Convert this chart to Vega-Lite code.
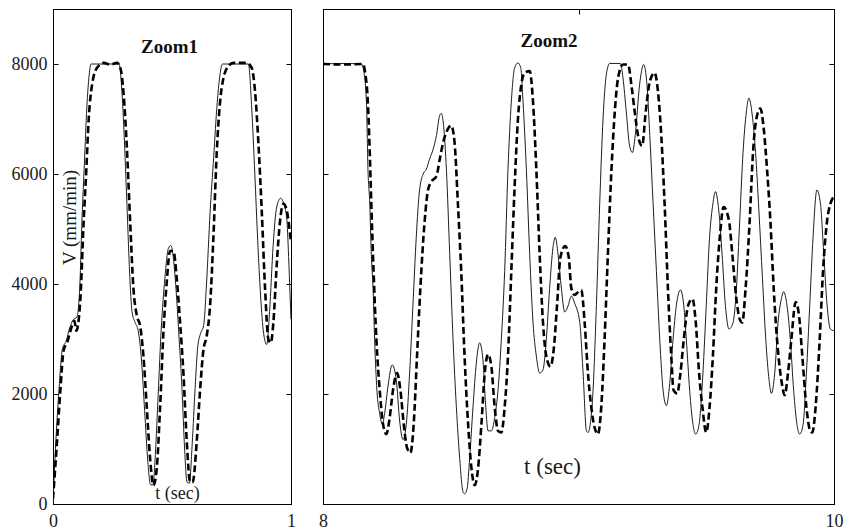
{
  "$schema": "https://vega.github.io/schema/vega-lite/v6.json",
  "padding": {"left": 10, "top": 8, "right": 15, "bottom": 2},
  "background": "white",
  "config": {
    "font": "Liberation Serif",
    "view": {"stroke": "black", "strokeWidth": 1},
    "axis": {
      "grid": false,
      "domainColor": "black",
      "tickColor": "black",
      "tickSize": -5,
      "labelColor": "#1a1a1a",
      "labelFontSize": 18,
      "labelFlush": false,
      "labelOverlap": false,
      "titleColor": "#1a1a1a",
      "titleFontWeight": "normal"
    }
  },
  "datasets": {
    "zoom1": [
      {"t": 0, "v": 0, "series": "ref"}, {"t": 0.012, "v": 1140, "series": "ref"}, {"t": 0.025, "v": 2070, "series": "ref"},
      {"t": 0.04, "v": 2830, "series": "ref"}, {"t": 0.055, "v": 2960, "series": "ref"}, {"t": 0.07, "v": 3200, "series": "ref"},
      {"t": 0.085, "v": 3350, "series": "ref"}, {"t": 0.1, "v": 3400, "series": "ref"}, {"t": 0.112, "v": 3900, "series": "ref"},
      {"t": 0.122, "v": 5200, "series": "ref"}, {"t": 0.132, "v": 6200, "series": "ref"}, {"t": 0.142, "v": 7200, "series": "ref"},
      {"t": 0.152, "v": 7800, "series": "ref"}, {"t": 0.16, "v": 8000, "series": "ref"}, {"t": 0.278, "v": 8000, "series": "ref"},
      {"t": 0.288, "v": 7600, "series": "ref"}, {"t": 0.3, "v": 6600, "series": "ref"}, {"t": 0.312, "v": 5300, "series": "ref"},
      {"t": 0.322, "v": 4200, "series": "ref"}, {"t": 0.332, "v": 3500, "series": "ref"}, {"t": 0.345, "v": 3300, "series": "ref"},
      {"t": 0.358, "v": 3150, "series": "ref"}, {"t": 0.372, "v": 2600, "series": "ref"}, {"t": 0.385, "v": 1700, "series": "ref"},
      {"t": 0.398, "v": 800, "series": "ref"}, {"t": 0.41, "v": 350, "series": "ref"}, {"t": 0.42, "v": 350, "series": "ref"},
      {"t": 0.43, "v": 900, "series": "ref"}, {"t": 0.442, "v": 2000, "series": "ref"}, {"t": 0.455, "v": 3200, "series": "ref"},
      {"t": 0.47, "v": 4100, "series": "ref"}, {"t": 0.485, "v": 4650, "series": "ref"}, {"t": 0.495, "v": 4700, "series": "ref"},
      {"t": 0.505, "v": 4500, "series": "ref"}, {"t": 0.517, "v": 3900, "series": "ref"}, {"t": 0.53, "v": 3000, "series": "ref"},
      {"t": 0.542, "v": 2100, "series": "ref"}, {"t": 0.553, "v": 1000, "series": "ref"}, {"t": 0.563, "v": 400, "series": "ref"},
      {"t": 0.573, "v": 380, "series": "ref"}, {"t": 0.585, "v": 1100, "series": "ref"}, {"t": 0.597, "v": 2100, "series": "ref"},
      {"t": 0.608, "v": 2850, "series": "ref"}, {"t": 0.62, "v": 3100, "series": "ref"}, {"t": 0.633, "v": 3250, "series": "ref"},
      {"t": 0.645, "v": 4000, "series": "ref"}, {"t": 0.66, "v": 5300, "series": "ref"}, {"t": 0.675, "v": 6300, "series": "ref"},
      {"t": 0.69, "v": 7300, "series": "ref"}, {"t": 0.7, "v": 7750, "series": "ref"}, {"t": 0.712, "v": 8000, "series": "ref"},
      {"t": 0.821, "v": 8000, "series": "ref"}, {"t": 0.835, "v": 7200, "series": "ref"}, {"t": 0.848, "v": 6000, "series": "ref"},
      {"t": 0.86, "v": 4800, "series": "ref"}, {"t": 0.872, "v": 3800, "series": "ref"}, {"t": 0.885, "v": 3100, "series": "ref"},
      {"t": 0.898, "v": 2900, "series": "ref"}, {"t": 0.91, "v": 3500, "series": "ref"}, {"t": 0.925, "v": 4700, "series": "ref"},
      {"t": 0.94, "v": 5400, "series": "ref"}, {"t": 0.957, "v": 5560, "series": "ref"}, {"t": 0.97, "v": 5450, "series": "ref"},
      {"t": 0.982, "v": 5200, "series": "ref"}, {"t": 0.99, "v": 4500, "series": "ref"}, {"t": 0.996, "v": 3800, "series": "ref"},
      {"t": 1, "v": 3360, "series": "ref"},

      {"t": 0, "v": 100, "series": "out"}, {"t": 0.017, "v": 1140, "series": "out"}, {"t": 0.031, "v": 2070, "series": "out"},
      {"t": 0.045, "v": 2800, "series": "out"}, {"t": 0.059, "v": 2930, "series": "out"}, {"t": 0.08, "v": 3240, "series": "out"},
      {"t": 0.09, "v": 3330, "series": "out"}, {"t": 0.098, "v": 3150, "series": "out"}, {"t": 0.115, "v": 3730, "series": "out"},
      {"t": 0.129, "v": 5150, "series": "out"}, {"t": 0.14, "v": 6080, "series": "out"}, {"t": 0.15, "v": 7000, "series": "out"},
      {"t": 0.164, "v": 7620, "series": "out"}, {"t": 0.185, "v": 7930, "series": "out"}, {"t": 0.213, "v": 8020, "series": "out"},
      {"t": 0.241, "v": 7990, "series": "out"}, {"t": 0.269, "v": 8020, "series": "out"}, {"t": 0.283, "v": 7930, "series": "out"},
      {"t": 0.297, "v": 7440, "series": "out"}, {"t": 0.31, "v": 6510, "series": "out"}, {"t": 0.324, "v": 5150, "series": "out"},
      {"t": 0.338, "v": 3920, "series": "out"}, {"t": 0.352, "v": 3430, "series": "out"}, {"t": 0.366, "v": 3240, "series": "out"},
      {"t": 0.38, "v": 2690, "series": "out"}, {"t": 0.394, "v": 1760, "series": "out"}, {"t": 0.408, "v": 830, "series": "out"},
      {"t": 0.422, "v": 340, "series": "out"}, {"t": 0.436, "v": 650, "series": "out"}, {"t": 0.45, "v": 1760, "series": "out"},
      {"t": 0.464, "v": 3120, "series": "out"}, {"t": 0.478, "v": 4040, "series": "out"}, {"t": 0.492, "v": 4600, "series": "out"},
      {"t": 0.506, "v": 4600, "series": "out"}, {"t": 0.52, "v": 4100, "series": "out"}, {"t": 0.534, "v": 3300, "series": "out"},
      {"t": 0.548, "v": 2380, "series": "out"}, {"t": 0.562, "v": 1140, "series": "out"}, {"t": 0.576, "v": 400, "series": "out"},
      {"t": 0.587, "v": 400, "series": "out"}, {"t": 0.604, "v": 1140, "series": "out"}, {"t": 0.618, "v": 2070, "series": "out"},
      {"t": 0.632, "v": 2800, "series": "out"}, {"t": 0.646, "v": 3060, "series": "out"}, {"t": 0.66, "v": 3610, "series": "out"},
      {"t": 0.674, "v": 4850, "series": "out"}, {"t": 0.688, "v": 6390, "series": "out"}, {"t": 0.702, "v": 7310, "series": "out"},
      {"t": 0.716, "v": 7740, "series": "out"}, {"t": 0.737, "v": 7960, "series": "out"}, {"t": 0.758, "v": 8020, "series": "out"},
      {"t": 0.814, "v": 8020, "series": "out"}, {"t": 0.835, "v": 7930, "series": "out"}, {"t": 0.849, "v": 7500, "series": "out"},
      {"t": 0.863, "v": 6570, "series": "out"}, {"t": 0.877, "v": 5340, "series": "out"}, {"t": 0.891, "v": 3920, "series": "out"},
      {"t": 0.905, "v": 2990, "series": "out"}, {"t": 0.915, "v": 2930, "series": "out"}, {"t": 0.926, "v": 3300, "series": "out"},
      {"t": 0.94, "v": 4350, "series": "out"}, {"t": 0.954, "v": 5150, "series": "out"}, {"t": 0.968, "v": 5460, "series": "out"},
      {"t": 0.982, "v": 5340, "series": "out"}, {"t": 0.996, "v": 4910, "series": "out"}, {"t": 1, "v": 4750, "series": "out"}
    ],
    "zoom2": [
      {"t": 8.0, "v": 8000, "series": "ref"}, {"t": 8.075, "v": 8010, "series": "ref"}, {"t": 8.15, "v": 8000, "series": "ref"},
      {"t": 8.157, "v": 7930, "series": "ref"}, {"t": 8.17, "v": 7310, "series": "ref"}, {"t": 8.176, "v": 6080, "series": "ref"},
      {"t": 8.183, "v": 5460, "series": "ref"}, {"t": 8.189, "v": 4540, "series": "ref"}, {"t": 8.196, "v": 3920, "series": "ref"},
      {"t": 8.202, "v": 2990, "series": "ref"}, {"t": 8.211, "v": 2070, "series": "ref"}, {"t": 8.222, "v": 1640, "series": "ref"},
      {"t": 8.232, "v": 1450, "series": "ref"}, {"t": 8.241, "v": 1640, "series": "ref"}, {"t": 8.254, "v": 2130, "series": "ref"},
      {"t": 8.271, "v": 2530, "series": "ref"}, {"t": 8.287, "v": 2250, "series": "ref"}, {"t": 8.3, "v": 1510, "series": "ref"},
      {"t": 8.313, "v": 1170, "series": "ref"}, {"t": 8.326, "v": 1450, "series": "ref"}, {"t": 8.339, "v": 2380, "series": "ref"},
      {"t": 8.352, "v": 3610, "series": "ref"}, {"t": 8.365, "v": 4850, "series": "ref"}, {"t": 8.378, "v": 5710, "series": "ref"},
      {"t": 8.394, "v": 6020, "series": "ref"}, {"t": 8.404, "v": 6080, "series": "ref"}, {"t": 8.417, "v": 6270, "series": "ref"},
      {"t": 8.431, "v": 6450, "series": "ref"}, {"t": 8.444, "v": 6700, "series": "ref"}, {"t": 8.457, "v": 7070, "series": "ref"},
      {"t": 8.463, "v": 7100, "series": "ref"}, {"t": 8.472, "v": 6880, "series": "ref"}, {"t": 8.483, "v": 6080, "series": "ref"},
      {"t": 8.496, "v": 4540, "series": "ref"}, {"t": 8.509, "v": 2990, "series": "ref"}, {"t": 8.522, "v": 1760, "series": "ref"},
      {"t": 8.535, "v": 830, "series": "ref"}, {"t": 8.548, "v": 220, "series": "ref"}, {"t": 8.554, "v": 185, "series": "ref"},
      {"t": 8.564, "v": 280, "series": "ref"}, {"t": 8.574, "v": 830, "series": "ref"}, {"t": 8.587, "v": 1760, "series": "ref"},
      {"t": 8.6, "v": 2560, "series": "ref"}, {"t": 8.613, "v": 2930, "series": "ref"}, {"t": 8.626, "v": 2620, "series": "ref"},
      {"t": 8.637, "v": 1760, "series": "ref"}, {"t": 8.646, "v": 1330, "series": "ref"}, {"t": 8.659, "v": 1330, "series": "ref"},
      {"t": 8.672, "v": 1570, "series": "ref"}, {"t": 8.685, "v": 2070, "series": "ref"}, {"t": 8.698, "v": 2990, "series": "ref"},
      {"t": 8.711, "v": 4230, "series": "ref"}, {"t": 8.724, "v": 6080, "series": "ref"}, {"t": 8.737, "v": 7310, "series": "ref"},
      {"t": 8.75, "v": 7930, "series": "ref"}, {"t": 8.763, "v": 8020, "series": "ref"}, {"t": 8.774, "v": 7930, "series": "ref"},
      {"t": 8.783, "v": 7310, "series": "ref"}, {"t": 8.796, "v": 6080, "series": "ref"}, {"t": 8.809, "v": 4540, "series": "ref"},
      {"t": 8.822, "v": 3300, "series": "ref"}, {"t": 8.835, "v": 2690, "series": "ref"}, {"t": 8.848, "v": 2380, "series": "ref"},
      {"t": 8.861, "v": 2440, "series": "ref"}, {"t": 8.874, "v": 2990, "series": "ref"}, {"t": 8.887, "v": 3920, "series": "ref"},
      {"t": 8.9, "v": 4660, "series": "ref"}, {"t": 8.909, "v": 4850, "series": "ref"}, {"t": 8.92, "v": 4540, "series": "ref"},
      {"t": 8.933, "v": 3920, "series": "ref"}, {"t": 8.946, "v": 3490, "series": "ref"}, {"t": 8.959, "v": 3600, "series": "ref"},
      {"t": 8.972, "v": 3780, "series": "ref"}, {"t": 8.985, "v": 3650, "series": "ref"}, {"t": 9.005, "v": 3300, "series": "ref"},
      {"t": 9.018, "v": 2380, "series": "ref"}, {"t": 9.031, "v": 1330, "series": "ref"}, {"t": 9.037, "v": 1300, "series": "ref"},
      {"t": 9.046, "v": 1450, "series": "ref"}, {"t": 9.057, "v": 2070, "series": "ref"}, {"t": 9.07, "v": 3610, "series": "ref"},
      {"t": 9.083, "v": 5460, "series": "ref"}, {"t": 9.096, "v": 7000, "series": "ref"}, {"t": 9.109, "v": 7810, "series": "ref"},
      {"t": 9.122, "v": 8010, "series": "ref"}, {"t": 9.164, "v": 8010, "series": "ref"}, {"t": 9.174, "v": 7750, "series": "ref"},
      {"t": 9.187, "v": 7130, "series": "ref"}, {"t": 9.2, "v": 6510, "series": "ref"}, {"t": 9.211, "v": 6390, "series": "ref"},
      {"t": 9.222, "v": 6700, "series": "ref"}, {"t": 9.239, "v": 7620, "series": "ref"}, {"t": 9.255, "v": 7990, "series": "ref"},
      {"t": 9.268, "v": 7620, "series": "ref"}, {"t": 9.279, "v": 6700, "series": "ref"}, {"t": 9.292, "v": 5460, "series": "ref"},
      {"t": 9.305, "v": 4230, "series": "ref"}, {"t": 9.318, "v": 2990, "series": "ref"}, {"t": 9.331, "v": 2070, "series": "ref"},
      {"t": 9.344, "v": 1790, "series": "ref"}, {"t": 9.357, "v": 2190, "series": "ref"}, {"t": 9.37, "v": 2990, "series": "ref"},
      {"t": 9.383, "v": 3610, "series": "ref"}, {"t": 9.399, "v": 3890, "series": "ref"}, {"t": 9.412, "v": 3610, "series": "ref"},
      {"t": 9.422, "v": 2990, "series": "ref"}, {"t": 9.435, "v": 2070, "series": "ref"}, {"t": 9.448, "v": 1450, "series": "ref"},
      {"t": 9.459, "v": 1270, "series": "ref"}, {"t": 9.472, "v": 1450, "series": "ref"}, {"t": 9.487, "v": 2380, "series": "ref"},
      {"t": 9.5, "v": 3610, "series": "ref"}, {"t": 9.513, "v": 4850, "series": "ref"}, {"t": 9.526, "v": 5460, "series": "ref"},
      {"t": 9.536, "v": 5680, "series": "ref"}, {"t": 9.549, "v": 5340, "series": "ref"}, {"t": 9.562, "v": 4540, "series": "ref"},
      {"t": 9.575, "v": 3610, "series": "ref"}, {"t": 9.589, "v": 3180, "series": "ref"}, {"t": 9.605, "v": 3300, "series": "ref"},
      {"t": 9.618, "v": 3920, "series": "ref"}, {"t": 9.631, "v": 5150, "series": "ref"}, {"t": 9.644, "v": 6390, "series": "ref"},
      {"t": 9.657, "v": 7130, "series": "ref"}, {"t": 9.667, "v": 7380, "series": "ref"}, {"t": 9.68, "v": 7070, "series": "ref"},
      {"t": 9.693, "v": 6390, "series": "ref"}, {"t": 9.706, "v": 5340, "series": "ref"}, {"t": 9.72, "v": 4100, "series": "ref"},
      {"t": 9.733, "v": 2990, "series": "ref"}, {"t": 9.746, "v": 2250, "series": "ref"}, {"t": 9.755, "v": 2010, "series": "ref"},
      {"t": 9.768, "v": 2380, "series": "ref"}, {"t": 9.781, "v": 3300, "series": "ref"}, {"t": 9.794, "v": 3730, "series": "ref"},
      {"t": 9.803, "v": 3860, "series": "ref"}, {"t": 9.816, "v": 3610, "series": "ref"}, {"t": 9.829, "v": 2990, "series": "ref"},
      {"t": 9.842, "v": 2070, "series": "ref"}, {"t": 9.855, "v": 1450, "series": "ref"}, {"t": 9.866, "v": 1270, "series": "ref"},
      {"t": 9.879, "v": 1450, "series": "ref"}, {"t": 9.892, "v": 2380, "series": "ref"}, {"t": 9.905, "v": 3610, "series": "ref"},
      {"t": 9.918, "v": 4850, "series": "ref"}, {"t": 9.933, "v": 5710, "series": "ref"}, {"t": 9.947, "v": 5460, "series": "ref"},
      {"t": 9.96, "v": 4540, "series": "ref"}, {"t": 9.973, "v": 3610, "series": "ref"}, {"t": 9.986, "v": 3180, "series": "ref"},
      {"t": 10.0, "v": 3150, "series": "ref"},

      {"t": 8.0, "v": 8000, "series": "out"}, {"t": 8.08, "v": 7990, "series": "out"}, {"t": 8.157, "v": 8000, "series": "out"},
      {"t": 8.166, "v": 7810, "series": "out"}, {"t": 8.174, "v": 7440, "series": "out"}, {"t": 8.183, "v": 6390, "series": "out"},
      {"t": 8.189, "v": 5460, "series": "out"}, {"t": 8.198, "v": 4230, "series": "out"}, {"t": 8.209, "v": 2990, "series": "out"},
      {"t": 8.222, "v": 2070, "series": "out"}, {"t": 8.235, "v": 1450, "series": "out"}, {"t": 8.248, "v": 1270, "series": "out"},
      {"t": 8.261, "v": 1570, "series": "out"}, {"t": 8.274, "v": 2070, "series": "out"}, {"t": 8.29, "v": 2380, "series": "out"},
      {"t": 8.303, "v": 2070, "series": "out"}, {"t": 8.316, "v": 1450, "series": "out"}, {"t": 8.329, "v": 1020, "series": "out"},
      {"t": 8.342, "v": 930, "series": "out"}, {"t": 8.355, "v": 1450, "series": "out"}, {"t": 8.368, "v": 2690, "series": "out"},
      {"t": 8.381, "v": 3920, "series": "out"}, {"t": 8.398, "v": 5150, "series": "out"}, {"t": 8.411, "v": 5710, "series": "out"},
      {"t": 8.424, "v": 5860, "series": "out"}, {"t": 8.444, "v": 5960, "series": "out"}, {"t": 8.457, "v": 6270, "series": "out"},
      {"t": 8.47, "v": 6570, "series": "out"}, {"t": 8.483, "v": 6760, "series": "out"}, {"t": 8.502, "v": 6880, "series": "out"},
      {"t": 8.515, "v": 6570, "series": "out"}, {"t": 8.528, "v": 5460, "series": "out"}, {"t": 8.541, "v": 4230, "series": "out"},
      {"t": 8.554, "v": 2690, "series": "out"}, {"t": 8.568, "v": 1450, "series": "out"}, {"t": 8.581, "v": 650, "series": "out"},
      {"t": 8.594, "v": 340, "series": "out"}, {"t": 8.607, "v": 650, "series": "out"}, {"t": 8.62, "v": 1450, "series": "out"},
      {"t": 8.633, "v": 2380, "series": "out"}, {"t": 8.646, "v": 2720, "series": "out"}, {"t": 8.659, "v": 2500, "series": "out"},
      {"t": 8.672, "v": 1760, "series": "out"}, {"t": 8.685, "v": 1330, "series": "out"}, {"t": 8.698, "v": 1300, "series": "out"},
      {"t": 8.711, "v": 1760, "series": "out"}, {"t": 8.724, "v": 2690, "series": "out"}, {"t": 8.737, "v": 4230, "series": "out"},
      {"t": 8.75, "v": 5770, "series": "out"}, {"t": 8.763, "v": 7000, "series": "out"}, {"t": 8.776, "v": 7620, "series": "out"},
      {"t": 8.789, "v": 7840, "series": "out"}, {"t": 8.809, "v": 7870, "series": "out"}, {"t": 8.822, "v": 7310, "series": "out"},
      {"t": 8.835, "v": 6080, "series": "out"}, {"t": 8.848, "v": 4540, "series": "out"}, {"t": 8.861, "v": 3300, "series": "out"},
      {"t": 8.874, "v": 2690, "series": "out"}, {"t": 8.89, "v": 2500, "series": "out"}, {"t": 8.903, "v": 2810, "series": "out"},
      {"t": 8.916, "v": 3610, "series": "out"}, {"t": 8.929, "v": 4480, "series": "out"}, {"t": 8.948, "v": 4690, "series": "out"},
      {"t": 8.962, "v": 4480, "series": "out"}, {"t": 8.972, "v": 3920, "series": "out"}, {"t": 8.985, "v": 3800, "series": "out"},
      {"t": 8.998, "v": 3850, "series": "out"}, {"t": 9.011, "v": 3890, "series": "out"}, {"t": 9.024, "v": 3300, "series": "out"},
      {"t": 9.037, "v": 2380, "series": "out"}, {"t": 9.05, "v": 1760, "series": "out"}, {"t": 9.063, "v": 1390, "series": "out"},
      {"t": 9.076, "v": 1270, "series": "out"}, {"t": 9.089, "v": 1760, "series": "out"}, {"t": 9.102, "v": 2990, "series": "out"},
      {"t": 9.115, "v": 4540, "series": "out"}, {"t": 9.129, "v": 6080, "series": "out"}, {"t": 9.142, "v": 7130, "series": "out"},
      {"t": 9.155, "v": 7750, "series": "out"}, {"t": 9.174, "v": 7990, "series": "out"}, {"t": 9.194, "v": 7990, "series": "out"},
      {"t": 9.207, "v": 7620, "series": "out"}, {"t": 9.22, "v": 7130, "series": "out"}, {"t": 9.233, "v": 6700, "series": "out"},
      {"t": 9.249, "v": 6510, "series": "out"}, {"t": 9.263, "v": 7130, "series": "out"}, {"t": 9.279, "v": 7680, "series": "out"},
      {"t": 9.298, "v": 7840, "series": "out"}, {"t": 9.311, "v": 7500, "series": "out"}, {"t": 9.324, "v": 6700, "series": "out"},
      {"t": 9.337, "v": 5460, "series": "out"}, {"t": 9.35, "v": 3920, "series": "out"}, {"t": 9.363, "v": 2690, "series": "out"},
      {"t": 9.372, "v": 2070, "series": "out"}, {"t": 9.386, "v": 2010, "series": "out"}, {"t": 9.399, "v": 2380, "series": "out"},
      {"t": 9.412, "v": 2990, "series": "out"}, {"t": 9.429, "v": 3610, "series": "out"}, {"t": 9.446, "v": 3730, "series": "out"},
      {"t": 9.459, "v": 3300, "series": "out"}, {"t": 9.472, "v": 2380, "series": "out"}, {"t": 9.485, "v": 1760, "series": "out"},
      {"t": 9.5, "v": 1300, "series": "out"}, {"t": 9.513, "v": 1760, "series": "out"}, {"t": 9.526, "v": 2690, "series": "out"},
      {"t": 9.539, "v": 3920, "series": "out"}, {"t": 9.553, "v": 4850, "series": "out"}, {"t": 9.568, "v": 5400, "series": "out"},
      {"t": 9.589, "v": 5150, "series": "out"}, {"t": 9.602, "v": 4540, "series": "out"}, {"t": 9.618, "v": 3730, "series": "out"},
      {"t": 9.631, "v": 3360, "series": "out"}, {"t": 9.641, "v": 3300, "series": "out"}, {"t": 9.654, "v": 3920, "series": "out"},
      {"t": 9.67, "v": 5150, "series": "out"}, {"t": 9.683, "v": 6390, "series": "out"}, {"t": 9.696, "v": 7000, "series": "out"},
      {"t": 9.712, "v": 7190, "series": "out"}, {"t": 9.725, "v": 6820, "series": "out"}, {"t": 9.738, "v": 6080, "series": "out"},
      {"t": 9.751, "v": 5150, "series": "out"}, {"t": 9.764, "v": 3920, "series": "out"}, {"t": 9.777, "v": 2990, "series": "out"},
      {"t": 9.794, "v": 2250, "series": "out"}, {"t": 9.807, "v": 1980, "series": "out"}, {"t": 9.82, "v": 2380, "series": "out"},
      {"t": 9.833, "v": 2990, "series": "out"}, {"t": 9.85, "v": 3670, "series": "out"}, {"t": 9.863, "v": 3430, "series": "out"},
      {"t": 9.876, "v": 2690, "series": "out"}, {"t": 9.892, "v": 1760, "series": "out"}, {"t": 9.907, "v": 1330, "series": "out"},
      {"t": 9.915, "v": 1300, "series": "out"}, {"t": 9.928, "v": 1760, "series": "out"}, {"t": 9.944, "v": 2990, "series": "out"},
      {"t": 9.957, "v": 4230, "series": "out"}, {"t": 9.973, "v": 5150, "series": "out"}, {"t": 9.986, "v": 5460, "series": "out"},
      {"t": 10.0, "v": 5590, "series": "out"}
    ]
  },
  "spacing": 32,
  "bounds": "flush",
  "hconcat": [
    {
      "width": 238,
      "height": 495,
      "layer": [
        {
          "data": {"name": "zoom1"},
          "transform": [{"filter": "datum.series === 'ref'"}],
          "mark": {"type": "line", "color": "#1e1e1e", "strokeWidth": 1, "interpolate": "monotone", "clip": true},
          "encoding": {
            "x": {"field": "t", "type": "quantitative", "scale": {"domain": [0, 1], "nice": false},
                  "axis": {"values": [0, 1], "format": "d", "labelPadding": 13,
                           "title": "t (sec)", "titleFontSize": 18, "titleX": 124, "titleY": -6,
                           "titleAlign": "center", "titleBaseline": "alphabetic"}},
            "y": {"field": "v", "type": "quantitative", "scale": {"domain": [0, 9000], "nice": false},
                  "axis": {"values": [0, 2000, 4000, 6000, 8000], "format": "d", "labelPadding": 11,
                           "title": "V (mm/min)", "titleFontSize": 19, "titleAngle": 270, "titleX": 22, "titleY": 208,
                           "titleAlign": "center", "titleBaseline": "alphabetic"}}
          }
        },
        {
          "data": {"name": "zoom1"},
          "transform": [{"filter": "datum.series === 'out'"}],
          "mark": {"type": "line", "color": "black", "strokeWidth": 2.6, "strokeDash": [7, 3.5], "interpolate": "monotone", "clip": true},
          "encoding": {
            "x": {"field": "t", "type": "quantitative", "scale": {"domain": [0, 1], "nice": false},
                  "axis": {"orient": "top", "values": [0, 1], "labels": false, "title": null}},
            "y": {"field": "v", "type": "quantitative", "scale": {"domain": [0, 9000], "nice": false},
                  "axis": {"orient": "right", "values": [0, 2000, 4000, 6000, 8000], "labels": false, "title": null}}
          }
        },
        {
          "data": {"values": [{"label": "Zoom1"}]},
          "mark": {"type": "text", "fontWeight": "bold", "fontSize": 19, "color": "#111111"},
          "encoding": {
            "text": {"field": "label"},
            "x": {"datum": 0.49, "type": "quantitative", "axis": null},
            "y": {"datum": 8310, "type": "quantitative", "axis": null}
          }
        }
      ],
      "resolve": {"axis": {"x": "independent", "y": "independent"}}
    },
    {
      "width": 511,
      "height": 495,
      "layer": [
        {
          "data": {"name": "zoom2"},
          "transform": [{"filter": "datum.series === 'ref'"}],
          "mark": {"type": "line", "color": "#1e1e1e", "strokeWidth": 1, "interpolate": "monotone", "clip": true},
          "encoding": {
            "x": {"field": "t", "type": "quantitative", "scale": {"domain": [8, 10], "nice": false},
                  "axis": {"values": [8, 9, 10], "format": "d", "labelPadding": 13,
                           "title": "t (sec)", "titleFontSize": 23, "titleX": 229, "titleY": -31,
                           "titleAlign": "center", "titleBaseline": "alphabetic"}},
            "y": {"field": "v", "type": "quantitative", "scale": {"domain": [0, 9000], "nice": false},
                  "axis": {"values": [0, 2000, 4000, 6000, 8000], "labels": false, "title": null}}
          }
        },
        {
          "data": {"name": "zoom2"},
          "transform": [{"filter": "datum.series === 'out'"}],
          "mark": {"type": "line", "color": "black", "strokeWidth": 2.6, "strokeDash": [7, 3.5], "interpolate": "monotone", "clip": true},
          "encoding": {
            "x": {"field": "t", "type": "quantitative", "scale": {"domain": [8, 10], "nice": false},
                  "axis": {"orient": "top", "values": [8, 9, 10], "labels": false, "title": null}},
            "y": {"field": "v", "type": "quantitative", "scale": {"domain": [0, 9000], "nice": false},
                  "axis": {"orient": "right", "values": [0, 2000, 4000, 6000, 8000], "labels": false, "title": null}}
          }
        },
        {
          "data": {"values": [{"label": "Zoom2"}]},
          "mark": {"type": "text", "fontWeight": "bold", "fontSize": 19, "color": "#111111"},
          "encoding": {
            "text": {"field": "label"},
            "x": {"datum": 8.885, "type": "quantitative", "axis": null},
            "y": {"datum": 8420, "type": "quantitative", "axis": null}
          }
        }
      ],
      "resolve": {"axis": {"x": "independent", "y": "independent"}}
    }
  ]
}
